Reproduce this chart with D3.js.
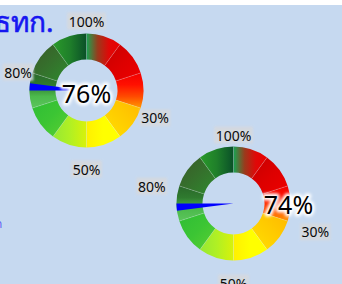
<!DOCTYPE html>
<html>
<head>
<meta charset="utf-8">
<script src="https://cdn.jsdelivr.net/npm/d3@7"></script>
<style>
  html, body { margin: 0; padding: 0; background: #fff; overflow: hidden; }
  svg { display: block; }
</style>
</head>
<body>
<svg id="chart"></svg>
<script>
// gauge readings
const gaugeValues = [76, 74];
// band edges of the dial, in percent
const bandEdges = [0, 10, 20, 30, 40, 50, 60, 70, 80, 90, 100];
// labelled ticks round the dial
const tickValues = [100, 30, 50, 80];
const titleText = "ธทก.";

// gradient fill of each band (clockwise from the top)
const bandFills = [
  { x1: 0, y1: 0, x2: 1, y2: 0, stops: ["#17a552", "#9a3a1c", "#e00808", "#e80000"] },
  { x1: 0, y1: 0, x2: 1, y2: 1, stops: ["#c60000", "#dd0000", "#ee0000"] },
  { x1: 0, y1: 0, x2: 0, y2: 1, stops: ["#f20000", "#ff1000", "#ff4a00", "#ff9a00"] },
  { x1: 1, y1: 0, x2: 0, y2: 1, stops: ["#ffb800", "#ffcc00", "#ffe000"] },
  { x1: 0, y1: 0, x2: 1, y2: 0, stops: ["#fff000", "#ffff00", "#ffff00"] },
  { x1: 1, y1: 0, x2: 0, y2: 0, stops: ["#d8f20a", "#b0f024", "#96e834"] },
  { x1: 1, y1: 1, x2: 0, y2: 0, stops: ["#5ad030", "#3cc534", "#2fbd35"] },
  { x1: 0, y1: 0, x2: 0, y2: 1, stops: ["#2a682a", "#2f7a2f", "#4cba4c", "#5cc55c"] },
  { x1: 0, y1: 0, x2: 1, y2: 1, stops: ["#3a5a28", "#35702c", "#2e8a2e"] },
  { x1: 0, y1: 0, x2: 1, y2: 0, stops: ["#2a9a2a", "#1f7f2a", "#0a5028"] }
];

const W = 342, H = 284;
const innerR = 31, outerR = 57;

const layout = [
  { cx: 86.5, cy: 90.5, rx: 72, ry: 74, dy0: 5, vx: 0, vy: 12.5 },
  { cx: 233.5, cy: 203.5, rx: 86, ry: 74, dy0: 6, vx: 55, vy: 10.5 }
];

const svg = d3.select("#chart").attr("width", W).attr("height", H);
const defs = svg.append("defs");

defs.append("filter").attr("id", "glow")
  .attr("x", "-20%").attr("y", "-20%").attr("width", "140%").attr("height", "140%")
  .append("feGaussianBlur").attr("stdDeviation", 1.6);

defs.append("filter").attr("id", "soft")
  .attr("x", "-20%").attr("y", "-30%").attr("width", "140%").attr("height", "160%")
  .append("feGaussianBlur").attr("stdDeviation", 0.8);

bandFills.forEach((f, i) => {
  const lg = defs.append("linearGradient").attr("id", "band" + i)
    .attr("x1", f.x1).attr("y1", f.y1).attr("x2", f.x2).attr("y2", f.y2);
  f.stops.forEach((c, j) => {
    lg.append("stop").attr("offset", j / (f.stops.length - 1)).attr("stop-color", c);
  });
});

// background
svg.append("rect").attr("width", W).attr("height", H).attr("fill", "#fff");
svg.append("rect").attr("y", 5).attr("width", W).attr("height", H - 5).attr("fill", "#c6d9f0");

// title, clipped at the left edge
svg.append("text")
  .attr("x", -6).attr("y", 32)
  .attr("fill", "#1616f0")
  .attr("stroke", "#1616f0")
  .attr("stroke-width", 0.6)
  .style("font-family", "'Noto Sans', 'DejaVu Sans', sans-serif")
  .style("font-size", "28px")
  .text(titleText);

const stub = svg.append("text")
  .attr("y", 228)
  .attr("fill", "#5a5af5")
  .style("font-family", "'Noto Sans', sans-serif")
  .style("font-size", "12px")
  .text("ก");
stub.attr("x", 2 - stub.node().getComputedTextLength());

const angle = d3.scaleLinear().domain([0, 100]).range([0, 2 * Math.PI]);

const bands = d3.pairs(bandEdges);
const arc = d3.arc()
  .innerRadius(innerR)
  .outerRadius(outerR)
  .startAngle(d => angle(d[0]))
  .endAngle(d => angle(d[1]));

const needleArc = d3.arc().innerRadius(0).outerRadius(outerR);

gaugeValues.forEach((v, gi) => {
  const L = layout[gi];
  const g = svg.append("g").attr("transform", `translate(${L.cx},${L.cy})`);

  g.selectAll("path.band")
    .data(bands)
    .join("path")
    .attr("class", "band")
    .attr("d", arc)
    .attr("fill", (d, i) => `url(#band${i})`);

  // thin separators between bands
  g.selectAll("line.sep")
    .data(bandEdges.slice(0, -1))
    .join("line")
    .attr("class", "sep")
    .attr("x1", d => innerR * Math.sin(angle(d)))
    .attr("y1", d => -innerR * Math.cos(angle(d)))
    .attr("x2", d => outerR * Math.sin(angle(d)))
    .attr("y2", d => -outerR * Math.cos(angle(d)))
    .attr("stroke", "#fff")
    .attr("stroke-opacity", 0.3)
    .attr("stroke-width", 0.7);

  // needle
  g.append("path")
    .attr("d", needleArc({ startAngle: angle(v) - 0.065, endAngle: angle(v) + 0.065 }))
    .attr("fill", "#0000ff");

  // tick labels
  const tl = g.selectAll("g.tick")
    .data(tickValues)
    .join("g")
    .attr("class", "tick")
    .attr("transform", d => {
      const a = angle(d);
      return `translate(${L.rx * Math.sin(a)},${L.dy0 - L.ry * Math.cos(a)})`;
    });

  tl.append("rect")
    .attr("fill", "#d6d9de")
    .attr("opacity", 0.9)
    .attr("filter", "url(#soft)");

  tl.append("text")
    .attr("text-anchor", "middle")
    .attr("dy", "0.36em")
    .attr("fill", "#0a0a0a")
    .style("font-family", "'Noto Sans', sans-serif")
    .style("font-size", "14px")
    .text(d => d + "%");

  tl.each(function () {
    const t = d3.select(this).select("text").node().getBBox();
    d3.select(this).select("rect")
      .attr("x", t.x - 1.5).attr("y", t.y + 1)
      .attr("width", t.width + 3).attr("height", t.height - 2);
  });

  // value readout with white halo
  const vt = g.append("g").attr("transform", `translate(${L.vx},${L.vy})`);
  vt.append("text")
    .attr("text-anchor", "middle")
    .attr("fill", "#fff")
    .attr("stroke", "#fff")
    .attr("stroke-width", 5)
    .attr("stroke-linejoin", "round")
    .attr("filter", "url(#glow)")
    .style("font-family", "'Noto Sans', sans-serif")
    .style("font-size", "25px")
    .text(v + "%");
  vt.append("text")
    .attr("text-anchor", "middle")
    .attr("fill", "#000")
    .style("font-family", "'Noto Sans', sans-serif")
    .style("font-size", "25px")
    .text(v + "%");
});
</script>
</body>
</html>
